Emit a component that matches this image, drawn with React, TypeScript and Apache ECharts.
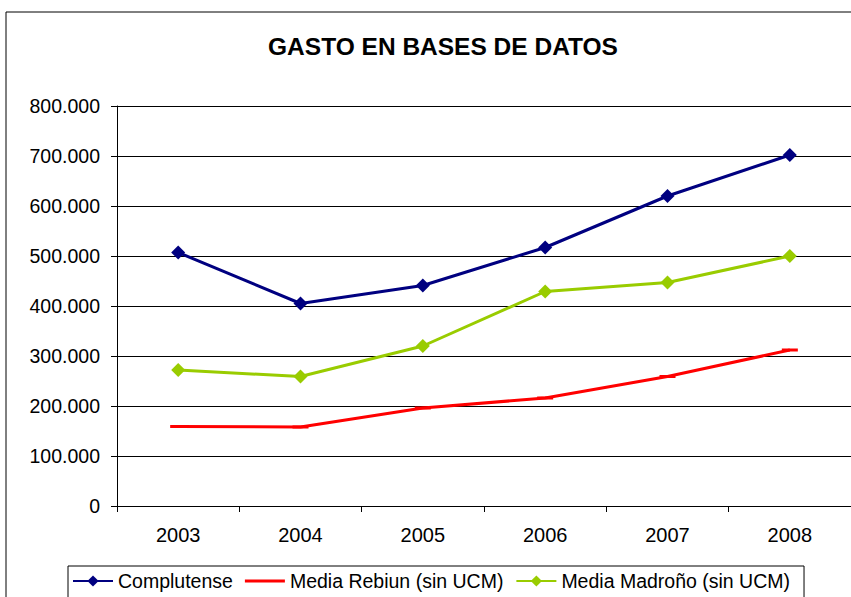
import React, { useEffect, useRef } from "react";
import * as echarts from "echarts";

const years = ["2003", "2004", "2005", "2006", "2007", "2008"];
const complutense = [507000, 405000, 441000, 517000, 620000, 702000];
const rebiun = [159000, 158000, 196000, 216000, 259000, 312000];
const madrono = [272000, 259000, 320000, 429000, 447000, 500000];
const seriesNames = ["Complutense", "Media Rebiun (sin UCM)", "Media Madroño (sin UCM)"];
const title = "GASTO EN BASES DE DATOS";

const fmt = (v: number) => {
  if (v === 0) return "0";
  return String(Math.round(v)).replace(/\B(?=(\d{3})+(?!\d))/g, ".");
};

export default function App() {
  const ref = useRef<HTMLDivElement>(null);
  useEffect(() => {
    if (!ref.current) return;
    const chart = echarts.init(ref.current, null, { renderer: "svg" });
    const font = "Liberation Sans, Arial, sans-serif";
    chart.setOption({
      animation: false,
      backgroundColor: "#ffffff",
      textStyle: { fontFamily: font },
      title: {
        text: title,
        left: 438,
        top: 29,
        textAlign: "center",
        textStyle: { fontFamily: font, fontSize: 24.5, fontWeight: "bold", color: "#000" },
      },
      graphic: [
        {
          type: "rect",
          shape: { x: 6, y: 12, width: 900, height: 700 },
          style: { fill: "none", stroke: "#000", lineWidth: 1 },
          silent: true,
          z: -1,
        },
      ],
      legend: {
        left: 68,
        top: 566,
        orient: "horizontal",
        borderColor: "#000",
        borderWidth: 1,
        padding: [5, 14, 8, 4],
        itemGap: 12,
        itemWidth: 40,
        itemHeight: 14,
        symbolKeepAspect: true,
        textStyle: { fontFamily: font, fontSize: 19.5, color: "#000" },
        data: [
          { name: seriesNames[0] },
          { name: seriesNames[1], icon: "path://M0,0L40,0L40,3L0,3Z" },
          { name: seriesNames[2] },
        ],
      },
      grid: { left: 117, top: 106, right: 0, bottom: 91, containLabel: false },
      xAxis: {
        type: "category",
        data: years,
        boundaryGap: true,
        axisLine: { lineStyle: { color: "#000", width: 1 } },
        axisTick: { show: true, length: 6, alignWithLabel: false, lineStyle: { color: "#000" } },
        axisLabel: { fontFamily: font, fontSize: 20, color: "#000", margin: 19 },
        splitLine: { show: false },
      },
      yAxis: {
        type: "value",
        min: 0,
        max: 800000,
        interval: 100000,
        axisLine: { show: true, lineStyle: { color: "#000", width: 1 } },
        axisTick: { show: true, length: 6, lineStyle: { color: "#000" } },
        axisLabel: { fontFamily: font, fontSize: 19.5, color: "#000", margin: 17, formatter: fmt },
        splitLine: { show: true, lineStyle: { color: "#000", width: 1 } },
      },
      series: [
        {
          name: seriesNames[0],
          type: "line",
          data: complutense,
          color: "#000080",
          lineStyle: { width: 3, color: "#000080" },
          symbol: "diamond",
          symbolSize: 14,
          itemStyle: { color: "#000080" },
          z: 3,
        },
        {
          name: seriesNames[1],
          type: "line",
          data: rebiun,
          color: "#ff0000",
          lineStyle: { width: 3, color: "#ff0000" },
          symbol: "rect",
          symbolSize: [16, 3],
          itemStyle: { color: "#ff0000" },
          z: 2,
        },
        {
          name: seriesNames[2],
          type: "line",
          data: madrono,
          color: "#99cc00",
          lineStyle: { width: 3, color: "#99cc00" },
          symbol: "diamond",
          symbolSize: 14,
          itemStyle: { color: "#99cc00" },
          z: 2,
        },
      ],
    });
    return () => chart.dispose();
  }, []);
  return (
    <div
      ref={ref}
      style={{ position: "absolute", left: 0, top: 0, width: 851, height: 597 }}
    />
  );
}
